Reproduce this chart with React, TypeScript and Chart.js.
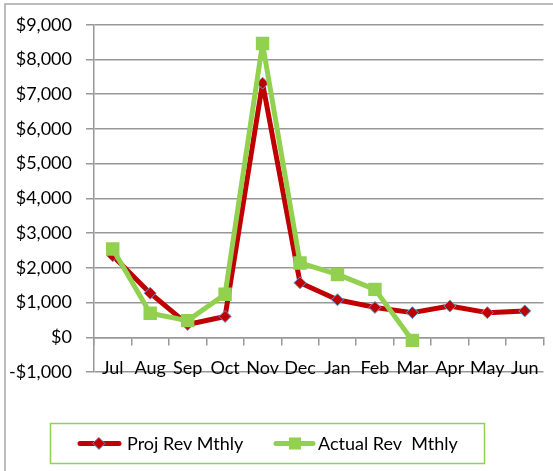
import React, { useEffect, useRef } from "react";
import { Chart, registerables } from "chart.js";
Chart.register(...registerables);

const months = ["Jul", "Aug", "Sep", "Oct", "Nov", "Dec", "Jan", "Feb", "Mar", "Apr", "May", "Jun"];
const projRev = [2350, 1270, 370, 600, 7320, 1570, 1080, 860, 710, 900, 710, 760];
const actualRev = [2540, 690, 480, 1240, 8460, 2140, 1810, 1380, -90, null, null, null];
const yMin = -1000;
const yMax = 9000;
const yStep = 1000;
const seriesNames = ["Proj Rev Mthly", "Actual Rev  Mthly"];

const RED = "#C00000";
const GREEN = "#92D050";
const DIAMOND_EDGE = "#5B9BD5";
const GRID = "#989898";
const FONT = 'Lato, "Open Sans", sans-serif';
const FS = 18;

const fmt = (v: number) => {
  const s = "$" + Math.abs(v).toLocaleString("en-US");
  return v < 0 ? "-" + s : s;
};

const decorPlugin = {
  id: "decor",
  afterDraw(chart: any) {
    const ctx = chart.ctx as CanvasRenderingContext2D;
    ctx.save();
    // outer frame
    ctx.strokeStyle = "#a6a6a6";
    ctx.lineWidth = 1.5;
    ctx.strokeRect(5, 4, 600, 600);
    // legend box
    ctx.strokeStyle = GREEN;
    ctx.lineWidth = 1.5;
    ctx.strokeRect(50.5, 423.5, 434, 40);
    const cy = 443.5;
    // item 1
    ctx.strokeStyle = RED;
    ctx.lineWidth = 5;
    ctx.lineCap = "round";
    ctx.beginPath();
    ctx.moveTo(80, cy);
    ctx.lineTo(119, cy);
    ctx.stroke();
    ctx.beginPath();
    const dx = 99, r = 6;
    ctx.moveTo(dx, cy - r);
    ctx.lineTo(dx + r, cy);
    ctx.lineTo(dx, cy + r);
    ctx.lineTo(dx - r, cy);
    ctx.closePath();
    ctx.fillStyle = RED;
    ctx.fill();
    ctx.strokeStyle = DIAMOND_EDGE;
    ctx.lineWidth = 1;
    ctx.stroke();
    // item 2
    ctx.strokeStyle = GREEN;
    ctx.lineWidth = 5;
    ctx.beginPath();
    ctx.moveTo(276, cy);
    ctx.lineTo(313, cy);
    ctx.stroke();
    ctx.fillStyle = GREEN;
    ctx.fillRect(295 - 6, cy - 6, 12, 12);
    // text
    ctx.fillStyle = "#000";
    ctx.font = FS + "px " + FONT;
    ctx.textBaseline = "middle";
    ctx.textAlign = "left";
    ctx.fillText(seriesNames[0], 127, cy + 1);
    ctx.fillText(seriesNames[1], 318, cy + 1);
    ctx.restore();
  },
};

export default function App() {
  const ref = useRef<HTMLCanvasElement | null>(null);
  useEffect(() => {
    document.body.style.margin = "0";
    const chart = new Chart(ref.current as HTMLCanvasElement, {
      type: "line",
      data: {
        labels: months,
        datasets: [
          {
            label: seriesNames[0],
            data: projRev,
            borderColor: RED,
            backgroundColor: RED,
            borderWidth: 5,
            borderJoinStyle: "round",
            pointStyle: "rectRot",
            pointRadius: 6,
            pointBackgroundColor: RED,
            pointBorderColor: DIAMOND_EDGE,
            pointBorderWidth: 1,
            tension: 0,
            order: 2,
          },
          {
            label: seriesNames[1],
            data: actualRev,
            borderColor: GREEN,
            backgroundColor: GREEN,
            borderWidth: 5,
            borderJoinStyle: "round",
            pointStyle: "rect",
            pointRadius: 9.5,
            pointBackgroundColor: GREEN,
            pointBorderColor: GREEN,
            pointBorderWidth: 0,
            tension: 0,
            spanGaps: false,
            order: 1,
          },
        ],
      },
      options: {
        animation: false,
        responsive: false,
        maintainAspectRatio: false,
        layout: { padding: { left: 0, top: 20, right: 1, bottom: 99 } },
        plugins: { legend: { display: false }, tooltip: { enabled: false } },
        scales: {
          x: {
            type: "category",
            position: { y: 0 } as any,
            offset: true,
            grid: { offset: true, drawOnChartArea: false, drawTicks: true, tickLength: 7, color: GRID, lineWidth: 1.5 },
            border: { display: true, color: GRID, width: 1.5 },
            ticks: { padding: 13, color: "#000", font: { family: FONT, size: FS }, maxRotation: 0, autoSkip: false },
          },
          y: {
            min: yMin,
            max: yMax,
            afterFit(scale: any) {
              scale.width = 94;
            },
            grid: { color: GRID, lineWidth: 1.5, tickLength: 8 },
            border: { display: true, color: GRID, width: 1.5 },
            ticks: {
              stepSize: yStep,
              padding: 14,
              color: "#000",
              font: { family: FONT, size: FS },
              callback: (v: any) => fmt(Number(v)),
            },
          },
        },
      },
      plugins: [decorPlugin],
    });
    (document as any).fonts?.load?.(FS + "px Lato").then(() => chart.update()).catch(() => {});
    return () => chart.destroy();
  }, []);
  return (
    <div style={{ position: "fixed", left: 0, top: 0, width: 553, height: 471 }}>
      <canvas ref={ref} width={553} height={471} style={{ width: 553, height: 471 }} />
    </div>
  );
}
